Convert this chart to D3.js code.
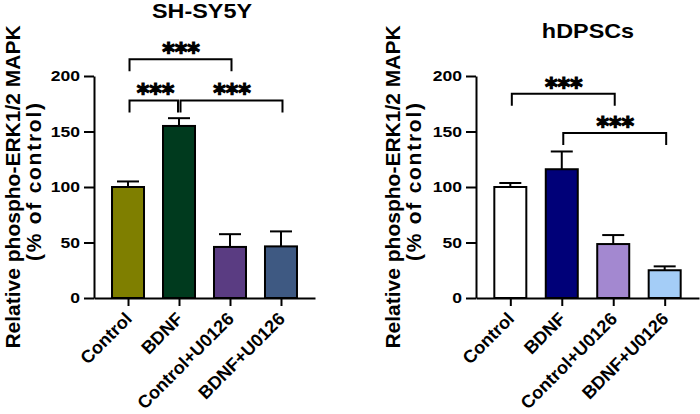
<!DOCTYPE html>
<html>
<head>
<meta charset="utf-8">
<script src="https://cdn.jsdelivr.net/npm/d3@7"></script>
<style>
  body { margin: 0; background: #fff; }
  svg { display: block; font-family: "Liberation Sans", Arial, sans-serif; font-weight: bold; }
</style>
</head>
<body>
<svg id="chart" width="700" height="414"></svg>
<script>
// categories and values
var categories = ["Control", "BDNF", "Control+U0126", "BDNF+U0126"];
var yTicks = [0, 50, 100, 150, 200];

var shsy5yMeans = [100, 155, 46, 46.5];
var shsy5yErrors = [5, 7, 11.5, 13.5];
var shsy5yBrackets = [
  {from: 0, to: 2, y: 215, label: "***"},
  {from: 0, to: 1, y: 178, label: "***"},
  {from: 1, to: 3, y: 178, label: "***"}
];

var hdpscMeans = [100, 116, 48.6, 25];
var hdpscErrors = [3.6, 16, 8.1, 3.5];
var hdpscBrackets = [
  {from: 0, to: 2, y: 184, label: "***"},
  {from: 1, to: 3, y: 148.6, label: "***"}
];

var shsy5yColors = ["#7f7f00", "#003a1e", "#5a3c82", "#3e5982"];
var hdpscColors = ["#ffffff", "#000078", "#a388d0", "#a4cdf7"];

var svg = d3.select("#chart");
var stretch = 1.17; // horizontal text stretch seen in the figure

// same y scale for both panels
var y = d3.scaleLinear().domain([0, 200]).range([298, 76]);

function drawPanel(opts) {
  var g = svg.append("g");

  var x = d3.scalePoint()
    .domain(categories)
    .range([opts.left, opts.right])
    .padding(0.667);

  var data = categories.map(function(c, i) {
    return {cat: c, mean: opts.means[i], err: opts.errors[i], color: opts.colors[i]};
  });

  var barW = 32;

  // error bars (upper only) drawn behind the bars
  g.selectAll(".err")
    .data(data)
    .enter()
    .append("line")
    .attr("x1", function(d) { return x(d.cat); })
    .attr("x2", function(d) { return x(d.cat); })
    .attr("y1", function(d) { return y(d.mean); })
    .attr("y2", function(d) { return y(d.mean + d.err); })
    .attr("stroke", "#000")
    .attr("stroke-width", 2);
  g.selectAll(".cap")
    .data(data)
    .enter()
    .append("line")
    .attr("x1", function(d) { return x(d.cat) - 11; })
    .attr("x2", function(d) { return x(d.cat) + 11; })
    .attr("y1", function(d) { return y(d.mean + d.err); })
    .attr("y2", function(d) { return y(d.mean + d.err); })
    .attr("stroke", "#000")
    .attr("stroke-width", 2);

  // bars
  g.selectAll(".bar")
    .data(data)
    .enter()
    .append("rect")
    .attr("x", function(d) { return x(d.cat) - barW / 2; })
    .attr("width", barW)
    .attr("y", function(d) { return y(d.mean); })
    .attr("height", function(d) { return y(0) - y(d.mean); })
    .attr("fill", function(d) { return d.color; })
    .attr("stroke", "#000")
    .attr("stroke-width", 2);

  // y axis
  var yAxis = g.append("g")
    .attr("transform", "translate(" + opts.left + ",0)")
    .call(d3.axisLeft(y).tickValues(yTicks).tickSize(10).tickSizeOuter(0).tickPadding(2));
  yAxis.selectAll("text")
    .attr("transform", "scale(" + stretch + ",1)")
    .style("font-size", "15px")
    .style("font-weight", "bold")
    .attr("fill", "#000");

  // x axis
  var xAxis = g.append("g")
    .attr("transform", "translate(0," + y(0) + ")")
    .call(d3.axisBottom(x).tickSize(8).tickSizeOuter(0).tickFormat(""));

  [yAxis, xAxis].forEach(function(a) {
    a.select(".domain").attr("stroke", "#000").attr("stroke-width", 2);
    a.selectAll(".tick line").attr("stroke", "#000").attr("stroke-width", 2);
    a.attr("font-family", null);
  });

  // rotated category labels
  g.selectAll(".xlab")
    .data(categories)
    .enter()
    .append("text")
    .attr("transform", function(d) {
      return "translate(" + (x(d) + 5) + "," + (y(0) + 22) + ")rotate(-45)";
    })
    .attr("text-anchor", "end")
    .style("font-size", "18px")
    .text(function(d) { return d; });

  // y axis title, two lines
  g.append("text")
    .attr("transform", "translate(" + opts.labelX + ",187)rotate(-90)")
    .attr("text-anchor", "middle")
    .style("font-size", "21px")
    .text("Relative phospho-ERK1/2 MAPK");
  g.append("text")
    .attr("transform", "translate(" + (opts.labelX + 21) + ",182)rotate(-90)")
    .attr("text-anchor", "middle")
    .attr("textLength", 158)
    .attr("lengthAdjust", "spacing")
    .style("font-size", "21px")
    .text("(% of control)");

  // panel title
  g.append("text")
    .attr("transform", "translate(" + opts.titleX + "," + opts.titleY + ")scale(" + stretch + ",1)")
    .attr("text-anchor", "middle")
    .style("font-size", "20px")
    .text(opts.title);

  // significance brackets
  var br = g.selectAll(".bracket")
    .data(opts.brackets)
    .enter()
    .append("g");
  br.append("path")
    .attr("d", function(d) {
      var shared = opts.brackets.some(function(b) { return b !== d && b.from === d.to && b.y === d.y; });
      var x1 = x(categories[d.from]) + 1.5;
      var x2 = x(categories[d.to]) + (shared ? -1 : 1.5);
      var yy = y(d.y);
      return "M" + x1 + "," + (yy + 12) + "V" + yy + "H" + x2 + "V" + (yy + 12);
    })
    .attr("fill", "none")
    .attr("stroke", "#000")
    .attr("stroke-width", 2);
  br.append("text")
    .attr("x", function(d) { return (x(categories[d.from]) + x(categories[d.to])) / 2 + 2; })
    .attr("y", function(d) { return y(d.y) + 1; })
    .attr("text-anchor", "middle")
    .attr("stroke", "#000")
    .attr("stroke-width", 1.2)
    .style("font-family", "'DejaVu Sans', sans-serif")
    .style("font-size", "24px")
    .text(function(d) { return d.label; });
}

drawPanel({
  title: "SH-SY5Y", titleX: 202, titleY: 18,
  left: 94, right: 315, labelX: 20,
  means: shsy5yMeans, errors: shsy5yErrors, colors: shsy5yColors, brackets: shsy5yBrackets
});

drawPanel({
  title: "hDPSCs", titleX: 588, titleY: 38,
  left: 476, right: 699, labelX: 400,
  means: hdpscMeans, errors: hdpscErrors, colors: hdpscColors, brackets: hdpscBrackets
});
</script>
</body>
</html>
